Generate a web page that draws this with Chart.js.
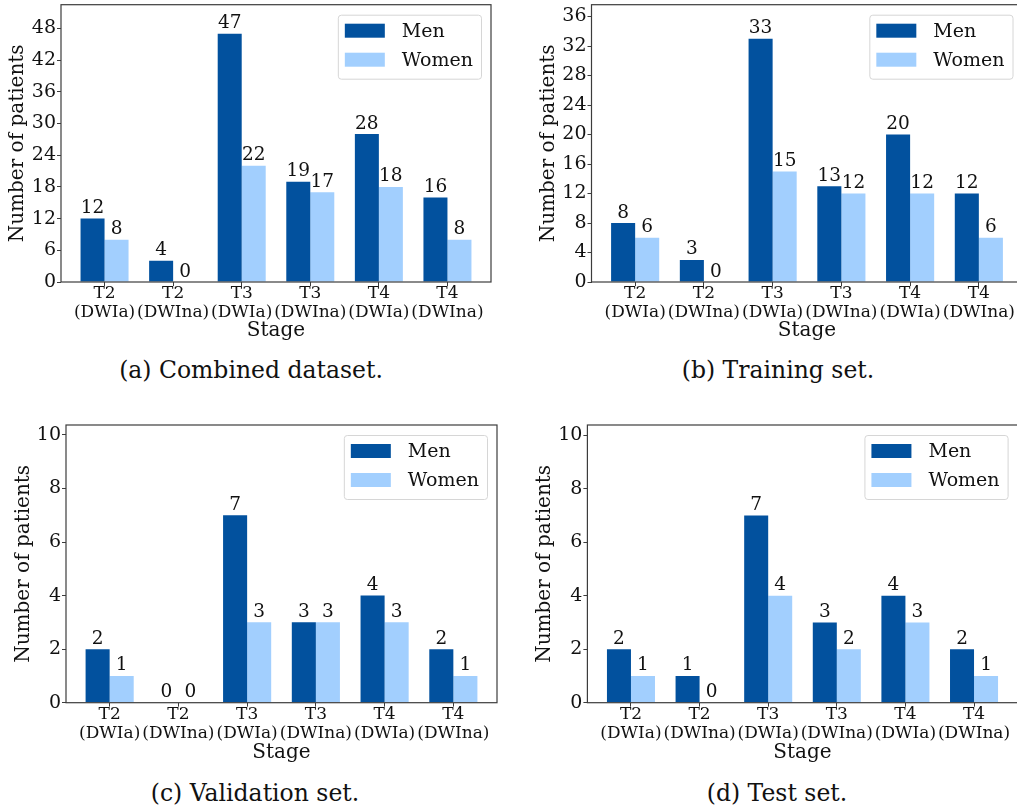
<!DOCTYPE html>
<html>
<head>
<meta charset="utf-8">
<script src="https://cdn.jsdelivr.net/npm/chart.js@4.4.1/dist/chart.umd.min.js"></script>
<style>
  html, body { margin: 0; padding: 0; background: #fff; }
  body { width: 1017px; height: 812px; overflow: hidden; position: relative; }
  .panel { position: absolute; }
  .panel canvas { display: block; }
  .caption {
    position: absolute;
    font-family: "DejaVu Serif", serif;
    font-size: 23.5px;
    color: #111;
    text-align: center;
    white-space: nowrap;
    transform: translate(-50%, -50%);
  }
</style>
</head>
<body>
<div class="panel" id="pa"><canvas id="ca"></canvas></div>
<div class="panel" id="pb"><canvas id="cb"></canvas></div>
<div class="panel" id="pc"><canvas id="cc"></canvas></div>
<div class="panel" id="pd"><canvas id="cd"></canvas></div>
<div class="caption" style="left:251px; top:370px;">(a) Combined dataset.</div>
<div class="caption" style="left:778px; top:370px;">(b) Training set.</div>
<div class="caption" style="left:255px; top:793px;">(c) Validation set.</div>
<div class="caption" style="left:777px; top:793px;">(d) Test set.</div>
<script>
// Stage categories (two-line tick labels)
const stageNames = ['T2', 'T2', 'T3', 'T3', 'T4', 'T4'];
const dwiNames = ['(DWIa)', '(DWIna)', '(DWIa)', '(DWIna)', '(DWIa)', '(DWIna)'];
const seriesNames = ['Men', 'Women'];

// Patient counts per stage
const combinedMen = [12, 4, 47, 19, 28, 16];
const combinedWomen = [8, 0, 22, 17, 18, 8];
const trainingMen = [8, 3, 33, 13, 20, 12];
const trainingWomen = [6, 0, 15, 12, 12, 6];
const validationMen = [2, 0, 7, 3, 4, 2];
const validationWomen = [1, 0, 3, 3, 3, 1];
const testMen = [2, 1, 7, 3, 4, 2];
const testWomen = [1, 0, 4, 2, 3, 1];

// Y tick values and axis tops
const combinedTicks = [0, 6, 12, 18, 24, 30, 36, 42, 48];
const trainingTicks = [0, 4, 8, 12, 16, 20, 24, 28, 32, 36];
const validationTicks = [0, 2, 4, 6, 8, 10];
const testTicks = [0, 2, 4, 6, 8, 10];
const combinedTop = 52.5;
const trainingTop = 37.6;
const validationTop = 10.37;
const testTop = 10.38;

const FONT = 'DejaVu Serif';
const MEN_COLOR = '#02519e';
const WOMEN_COLOR = '#a2cffe';
const SPINE = '#3c3c3c';

// Frame round the plot area, as in a boxed axes
const framePlugin = {
  id: 'frame',
  afterDatasetsDraw(chart) {
    const { ctx, chartArea: a } = chart;
    ctx.save();
    ctx.strokeStyle = SPINE;
    ctx.lineWidth = 1.2;
    ctx.strokeRect(a.left, a.top, a.right - a.left, a.bottom - a.top);
    ctx.restore();
  }
};

// Value written above every bar
const valueLabelPlugin = {
  id: 'valueLabels',
  afterDatasetsDraw(chart) {
    const { ctx } = chart;
    ctx.save();
    ctx.font = '18.5px "' + FONT + '"';
    ctx.fillStyle = '#111';
    ctx.textAlign = 'center';
    ctx.textBaseline = 'alphabetic';
    chart.data.datasets.forEach((ds, di) => {
      const meta = chart.getDatasetMeta(di);
      meta.data.forEach((bar, i) => {
        ctx.fillText(String(ds.data[i].y), bar.x, bar.y - 5.5);
      });
    });
    ctx.restore();
  }
};

// Boxed legend in the upper right corner of the plot area
const boxLegendPlugin = {
  id: 'boxLegend',
  afterDraw(chart) {
    const { ctx, chartArea: a } = chart;
    const ds = chart.data.datasets;
    ctx.save();
    ctx.font = '19px "' + FONT + '"';
    const textW = Math.max(...ds.map(d => ctx.measureText(d.label).width));
    const padL = 7, swW = 40, swH = 14, gap = 17, padR = 8, rowH = 29;
    const w = padL + swW + gap + textW + padR;
    const h = 64;
    const x = a.right - 10 - w;
    const y = a.top + 10;
    ctx.beginPath();
    ctx.roundRect(x + 0.5, y + 0.5, w, h, 3);
    ctx.fillStyle = 'rgba(255,255,255,0.8)';
    ctx.fill();
    ctx.strokeStyle = '#d6d6d6';
    ctx.lineWidth = 1;
    ctx.stroke();
    ds.forEach((d, i) => {
      const sy = y + 9 + i * rowH;
      ctx.fillStyle = d.backgroundColor;
      ctx.fillRect(x + padL, sy, swW, swH);
      ctx.fillStyle = '#111';
      ctx.textAlign = 'left';
      ctx.textBaseline = 'middle';
      ctx.fillText(d.label, x + padL + swW + gap, sy + swH / 2 + 1);
    });
    ctx.restore();
  }
};

function makePanel(cfg) {
  const holder = document.getElementById(cfg.holder);
  holder.style.left = cfg.left + 'px';
  holder.style.top = cfg.top + 'px';
  holder.style.width = cfg.width + 'px';
  holder.style.height = cfg.height + 'px';
  const canvas = document.getElementById(cfg.canvas);
  canvas.width = cfg.width;
  canvas.height = cfg.height;

  const toPoints = arr => arr.map((v, i) => ({ x: i, y: v }));

  return new Chart(canvas, {
    type: 'bar',
    data: {
      datasets: [
        { label: seriesNames[0], data: toPoints(cfg.men), backgroundColor: MEN_COLOR },
        { label: seriesNames[1], data: toPoints(cfg.women), backgroundColor: WOMEN_COLOR }
      ]
    },
    options: {
      responsive: false,
      animation: false,
      devicePixelRatio: 1,
      categoryPercentage: 0.7,
      barPercentage: 1.0,
      layout: { padding: { top: cfg.padTop, right: cfg.padRight, left: 0, bottom: 0 } },
      plugins: { legend: { display: false }, tooltip: { enabled: false } },
      scales: {
        x: {
          type: 'linear',
          min: -0.635,
          max: stageNames.length - 1 + 0.635,
          offset: false,
          grid: { display: true, offset: false, drawOnChartArea: false, drawTicks: true, tickLength: 4, color: SPINE },
          border: { display: false },
          afterBuildTicks: scale => { scale.ticks = stageNames.map((s, i) => ({ value: i })); },
          afterFit: scale => {
            scale.height = cfg.xAxisHeight;
            scale.paddingLeft = 0;
            scale.paddingRight = 0;
          },
          ticks: {
            autoSkip: false,
            maxRotation: 0,
            padding: -1.5,
            color: '#111',
            font: { family: FONT, size: 17, lineHeight: 1.12 },
            callback: v => [stageNames[v], dwiNames[v]]
          },
          title: {
            display: true,
            text: 'Stage',
            color: '#111',
            font: { family: FONT, size: 20, lineHeight: 1.2 },
            padding: { top: 0, bottom: 2 }
          }
        },
        y: {
          type: 'linear',
          min: 0,
          max: cfg.yTop,
          grid: { display: true, drawOnChartArea: false, drawTicks: true, tickLength: 4, color: SPINE },
          border: { display: false },
          afterBuildTicks: scale => { scale.ticks = cfg.yTicks.map(v => ({ value: v })); },
          afterFit: scale => {
            scale.width = cfg.yAxisWidth;
            scale.paddingTop = 0;
            scale.paddingBottom = 0;
          },
          ticks: {
            padding: 1,
            color: '#111',
            font: { family: FONT, size: 19 },
            callback: v => String(v)
          },
          title: {
            display: true,
            text: 'Number of patients',
            color: '#111',
            font: { family: FONT, size: 20, lineHeight: 1.2 },
            padding: { top: cfg.yTitlePad, bottom: 0 }
          }
        }
      }
    },
    plugins: [framePlugin, valueLabelPlugin, boxLegendPlugin]
  });
}

makePanel({ holder: 'pa', canvas: 'ca', left: 0, top: 0, width: 500, height: 345,
  padTop: 4.7, padRight: 9, yAxisWidth: 61, xAxisHeight: 63, yTitlePad: 6,
  men: combinedMen, women: combinedWomen, yTicks: combinedTicks, yTop: combinedTop });

makePanel({ holder: 'pb', canvas: 'cb', left: 510, top: 0, width: 520, height: 345,
  padTop: 4.7, padRight: 7.5, yAxisWidth: 81.5, xAxisHeight: 63, yTitlePad: 26.5,
  men: trainingMen, women: trainingWomen, yTicks: trainingTicks, yTop: trainingTop });

makePanel({ holder: 'pc', canvas: 'cc', left: 0, top: 410, width: 505, height: 357,
  padTop: 15, padRight: 8, yAxisWidth: 66, xAxisHeight: 64.3, yTitlePad: 11.5,
  men: validationMen, women: validationWomen, yTicks: validationTicks, yTop: validationTop });

makePanel({ holder: 'pd', canvas: 'cd', left: 510, top: 410, width: 520, height: 357,
  padTop: 15, padRight: 12.4, yAxisWidth: 77.4, xAxisHeight: 64.3, yTitlePad: 22.5,
  men: testMen, women: testWomen, yTicks: testTicks, yTop: testTop });
</script>
</body>
</html>
